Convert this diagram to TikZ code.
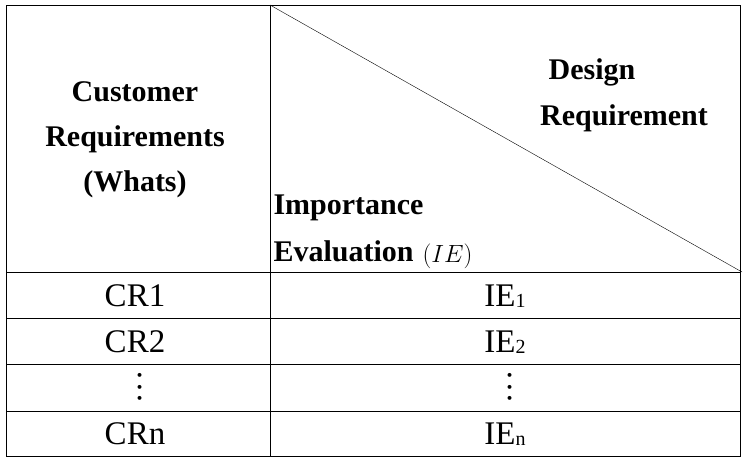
\documentclass[tikz,border=0pt]{standalone}
\usepackage{fontspec}
\setmainfont{Liberation Serif}
\usepackage{amsmath}
\usepackage{graphicx}
\newcommand{\rowdots}{\rotatebox{90}{.\kern3pt.\kern3pt.}}

\begin{document}
\begin{tikzpicture}[x=1pt, y=-1pt,
    cell/.style={font=\fontsize{33}{36}\selectfont},
    head/.style={font=\bfseries\fontsize{30}{45}\selectfont, align=center}]
    % Frame
    \useasboundingbox (0,0) rectangle (748,465);
    \draw[thick] (6,5) rectangle (740,456);
    \draw[thick] (270,5) -- (270,456);
    \draw[thick] (6,272) -- (740,272);
    \foreach \y in {318, 364, 411} {
        \draw[thick] (6,\y) -- (740,\y);
    }
    \coordinate (corner) at (270,5);
    \coordinate (edge) at (742,272);
    \draw (corner) -- (edge);

    % Header
    \node[head] (whats) at (135,140) {Customer\\Requirements\\(Whats)};
    \node[head] (design) at (592,72) {Design};
    \node[head] (dreq) at (624,118) {Requirement};
    \node[head, anchor=west] (imp) at (270,208) {Importance};
    \node[head, anchor=west] (eval) at (270,251) {Evaluation};
    \node[cell, anchor=west, font=\fontsize{26}{28}\selectfont] (ie) at ([xshift=2pt,yshift=-5pt]eval.east) {$(IE)$};

    % Rows
    \node[cell] (cr1) at (135,296) {CR1};
    \node[cell] (cr2) at (135,342) {CR2};
    \node[cell] (crd) at (140,387) {\rowdots};
    \node[cell] (crn) at (135,434) {CRn};
    \node[cell] (ie1) at (505,296) {IE\raisebox{-1pt}{\fontsize{20}{20}\selectfont 1}};
    \node[cell] (ie2) at (505,342) {IE\raisebox{-1pt}{\fontsize{20}{20}\selectfont 2}};
    \node[cell] (ied) at (510,387) {\rowdots};
    \node[cell] (ien) at (505,434) {IE\raisebox{-1pt}{\fontsize{20}{20}\selectfont n}};
\end{tikzpicture}
\end{document}
